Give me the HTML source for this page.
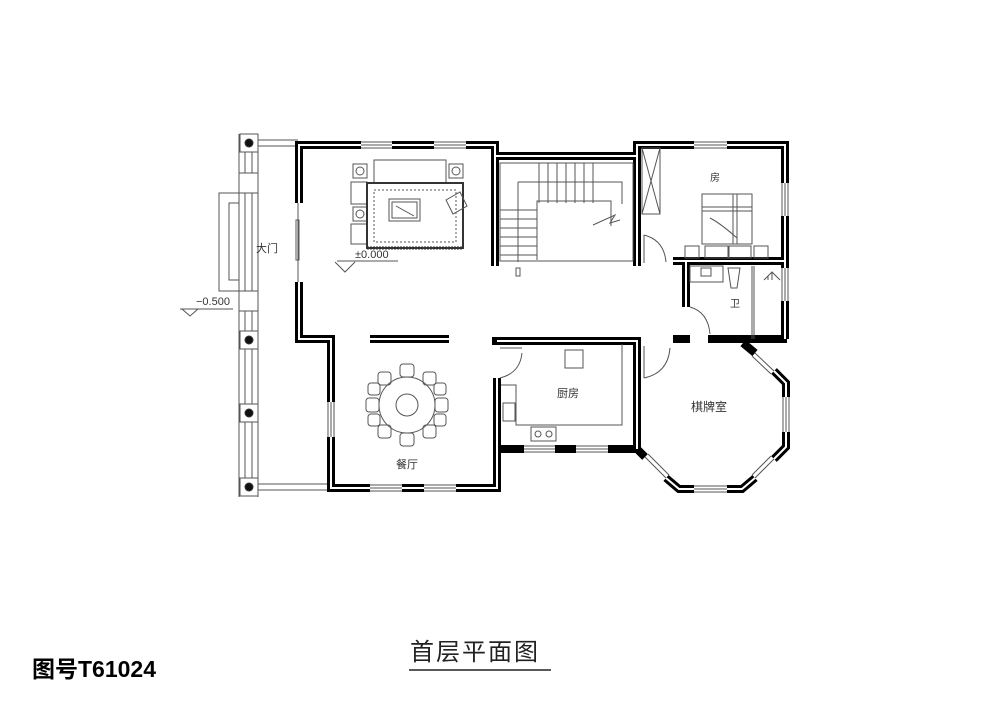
<!DOCTYPE html>
<html><head><meta charset="utf-8"><style>
html,body{margin:0;padding:0;background:#fff;}
svg{display:block;}
text{font-family:"Liberation Sans","Noto Sans CJK SC",sans-serif;}
</style></head><body>
<svg width="1000" height="707" viewBox="0 0 1000 707" xmlns="http://www.w3.org/2000/svg">
<g fill="none" stroke="#555" stroke-width="1">
  <line x1="239" y1="134" x2="239" y2="497"/>
  <line x1="245" y1="152" x2="245" y2="478"/>
  <line x1="252" y1="152" x2="252" y2="478"/>
  <line x1="258" y1="134" x2="258" y2="497"/>
  <rect x="239" y="173" width="19" height="20" fill="#fff"/>
  <rect x="239" y="291" width="19" height="20" fill="#fff"/>
  <polyline points="239,193 219,193 219,291 239,291"/>
  <rect x="229" y="203" width="10" height="77"/>
  <line x1="258" y1="140" x2="298" y2="140"/><line x1="258" y1="146" x2="298" y2="146"/>
  <line x1="258" y1="484" x2="330" y2="484"/><line x1="258" y1="490" x2="330" y2="490"/>
  <g fill="#fff">
  <rect x="240" y="134" width="18" height="18"/><rect x="240" y="331" width="18" height="18"/>
  <rect x="240" y="404" width="18" height="18"/><rect x="240" y="478" width="18" height="18"/>
  </g>
  <g fill="#111" stroke="#333">
  <circle cx="249" cy="143" r="4"/><circle cx="249" cy="340" r="4"/><circle cx="249" cy="413" r="4"/><circle cx="249" cy="487" r="4"/>
  </g>
  <line x1="180" y1="309" x2="233" y2="309"/>
  <polyline points="182,309 190,316 198,309"/>
  <line x1="337" y1="261" x2="398" y2="261"/>
  <polyline points="335,262 345,272 355,262"/>
  <line x1="298" y1="203" x2="298" y2="282"/>
  <rect x="296" y="220" width="3" height="40"/>
</g>
<g fill="none" stroke="#000" stroke-width="8" stroke-linejoin="miter">
  <polyline points="299,203 299,145 361,145"/>
  <line x1="392" y1="145" x2="434" y2="145"/>
  <polyline points="466,145 495,145 495,266"/>
  <polyline points="299,282 299,339 331,339 331,402"/>
  <polyline points="331,437 331,488 370,488"/>
  <line x1="402" y1="488" x2="424" y2="488"/>
  <polyline points="456,488 497,488 497,378"/>
  <line x1="370" y1="339" x2="449" y2="339"/>
  <line x1="492" y1="341" x2="500" y2="341"/>
  <polyline points="495,156 637,156"/>
  <polyline points="637,266 637,145 694,145"/>
  <polyline points="727,145 785,145 785,183"/>
  <line x1="785" y1="216" x2="785" y2="268"/>
  <line x1="785" y1="301" x2="785" y2="339"/>
  <polyline points="673,261 785,261"/>
  <polyline points="686,261 686,307"/>
  <polyline points="708,339 787,339"/>
  <polyline points="673,339 690,339"/>
  <polyline points="497,341 637,341 637,449"/>
  <polyline points="500,449 524,449"/><line x1="555" y1="449" x2="576" y2="449"/><line x1="608" y1="449" x2="637" y2="449"/>
  <polyline points="637,449 645,457"/>
  <polyline points="666,478 679,489 694,489"/>
  <polyline points="727,489 742,489 755,478"/>
  <polyline points="774,459 786,447 786,432"/>
  <polyline points="786,397 786,383 774,371"/>
  <polyline points="755,353 743,343"/>
</g>
<g fill="none" stroke="#fff" stroke-width="2">
  <polyline points="299,203 299,145 361,145"/>
  <line x1="392" y1="145" x2="434" y2="145"/>
  <polyline points="466,145 495,145 495,266"/>
  <polyline points="299,282 299,339 331,339 331,402"/>
  <polyline points="331,437 331,488 370,488"/>
  <line x1="402" y1="488" x2="424" y2="488"/>
  <polyline points="456,488 497,488 497,378"/>
  <line x1="370" y1="339" x2="449" y2="339"/>
  <polyline points="495,156 637,156"/>
  <polyline points="637,266 637,145 694,145"/>
  <polyline points="727,145 785,145 785,183"/>
  <line x1="785" y1="216" x2="785" y2="268"/>
  <line x1="785" y1="301" x2="785" y2="339"/>
  <polyline points="673,261 785,261"/>
  <polyline points="686,261 686,307"/>
  <polyline points="497,341 637,341 637,449"/>
  <polyline points="666,478 679,489 694,489"/>
  <polyline points="727,489 742,489 755,478"/>
  <polyline points="774,459 786,447 786,432"/>
  <polyline points="786,397 786,383 774,371"/>
</g>
<g stroke="#555" stroke-width="1" fill="none">
  <path d="M361,142h31M361,145h31M361,148h31M434,142h32M434,145h32M434,148h32"/>
  <path d="M370,485h32M370,488h32M370,491h32M424,485h32M424,488h32M424,491h32"/>
  <path d="M328,402v35M331,402v35M334,402v35"/>
  <path d="M694,142h33M694,145h33M694,148h33"/>
  <path d="M782,183v33M785,183v33M788,183v33M782,268v33M785,268v33M788,268v33"/>
  <path d="M524,446h31M524,449h31M524,452h31M576,446h32M576,449h32M576,452h32"/>
  <path d="M783,397v35M786,397v35M789,397v35M694,486h33M694,489h33M694,492h33"/>
  <path d="M645,457L666,478M648,454L669,475M755,478L774,459M752,475L771,456M755,353L774,371M752,356L771,374"/>
  <rect x="500" y="163" width="133" height="98"/>
  <path d="M539,163v40M548,163v40M557,163v40M566,163v40M575,163v40M584,163v40M593,163v40"/>
  <path d="M518,182h104v22M518,182v80"/>
  <path d="M537,260V201h74v25"/>
  <path d="M500,210h37M500,219h37M500,228h37M500,237h37M500,246h37M500,255h37"/>
  <path d="M593,225l22,-10l-5,8l10,-3"/>
  <path d="M516,268h4v8h-4z"/>
  <rect x="642" y="148" width="18" height="66"/>
  <path d="M642,148L660,214M660,148L642,214"/>
  <rect x="702" y="194" width="50" height="50"/>
  <path d="M702,207h50M702,211h50M733,194v50M737,194v50"/>
  <path d="M710,218q10,5 27,20"/>
  <rect x="685" y="246" width="14" height="12"/><rect x="754" y="246" width="14" height="12"/>
  <rect x="705" y="246" width="23" height="12"/><rect x="729" y="246" width="22" height="12"/>
  <path d="M644,235q20,5 22,27"/><path d="M644,235v28"/>
  <rect x="690" y="266" width="33" height="16"/><rect x="701" y="268" width="10" height="8"/>
  <path d="M728,268h12l-3,20h-6z"/>
  <path d="M752,266v73M754,266v73"/>
  <path d="M764,280l8,-8l8,8M768,276v4M772,272v8"/>
  <path d="M690,307q18,5 20,27"/>
  <path d="M644,378v-32"/>
  <path d="M644,378q24,-5 26,-30"/>
  <path d="M500,378q20,-5 22,-25"/>
  <path d="M500,348h22"/>
  <rect x="565" y="350" width="18" height="18"/>
  <path d="M501,385h15v40h106V344"/>
  <rect x="503" y="403" width="12" height="18"/>
  <rect x="531" y="427" width="25" height="14"/>
  <circle cx="538" cy="434" r="3"/><circle cx="549" cy="434" r="3"/>
  <rect x="374" y="160" width="72" height="23"/>
  <rect x="353" y="164" width="14" height="14"/><rect x="449" y="164" width="14" height="14"/>
  <circle cx="360" cy="171" r="4"/><circle cx="456" cy="171" r="4"/>
  <rect x="351" y="182" width="16" height="22"/><rect x="353" y="207" width="14" height="14"/><circle cx="360" cy="214" r="4"/>
  <rect x="351" y="224" width="16" height="20"/>
  <rect x="367" y="183" width="96" height="65" stroke="#333" stroke-width="2"/>
  <rect x="374" y="190" width="82" height="52" stroke-dasharray="2,2"/>
  <rect x="389" y="199" width="31" height="22"/><rect x="392" y="202" width="25" height="16"/>
  <path d="M396,206l18,10"/>
  <path d="M446,200l14,-8l7,14l-14,8z"/>
  <path d="M367,248h96" stroke="#333" stroke-width="3" stroke-dasharray="2,1"/>
  <circle cx="407" cy="405" r="28"/>
  <circle cx="407" cy="405" r="11"/>
  <g>
    <rect x="400" y="364" width="14" height="13" rx="3"/>
    <rect x="400" y="433" width="14" height="13" rx="3"/>
    <rect x="366" y="398" width="13" height="14" rx="3"/>
    <rect x="435" y="398" width="13" height="14" rx="3"/>
    <rect x="378" y="372" width="13" height="13" rx="3"/>
    <rect x="423" y="372" width="13" height="13" rx="3"/>
    <rect x="378" y="425" width="13" height="13" rx="3"/>
    <rect x="423" y="425" width="13" height="13" rx="3"/>
    <rect x="368" y="383" width="12" height="12" rx="3"/>
    <rect x="434" y="383" width="12" height="12" rx="3"/>
    <rect x="368" y="414" width="12" height="12" rx="3"/>
    <rect x="434" y="414" width="12" height="12" rx="3"/>
  </g>
</g>
<g fill="#333" font-size="11">
  <text x="256" y="252">大门</text>
  <text x="196" y="305">−0.500</text>
  <text x="355" y="258">±0.000</text>
  <text x="710" y="181" font-size="10">房</text>
  <text x="730" y="307" font-size="10">卫</text>
  <text x="557" y="397">厨房</text>
  <text x="691" y="411" font-size="12">棋牌室</text>
  <text x="396" y="468">餐厅</text>
</g>
<text x="410" y="660" font-size="24" fill="#222" letter-spacing="2">首层平面图</text>
<line x1="409" y1="670" x2="551" y2="670" stroke="#222" stroke-width="1.5"/>
<text x="32" y="677" font-size="23" font-weight="bold" fill="#000">图号T61024</text>
</svg>
</body></html>
